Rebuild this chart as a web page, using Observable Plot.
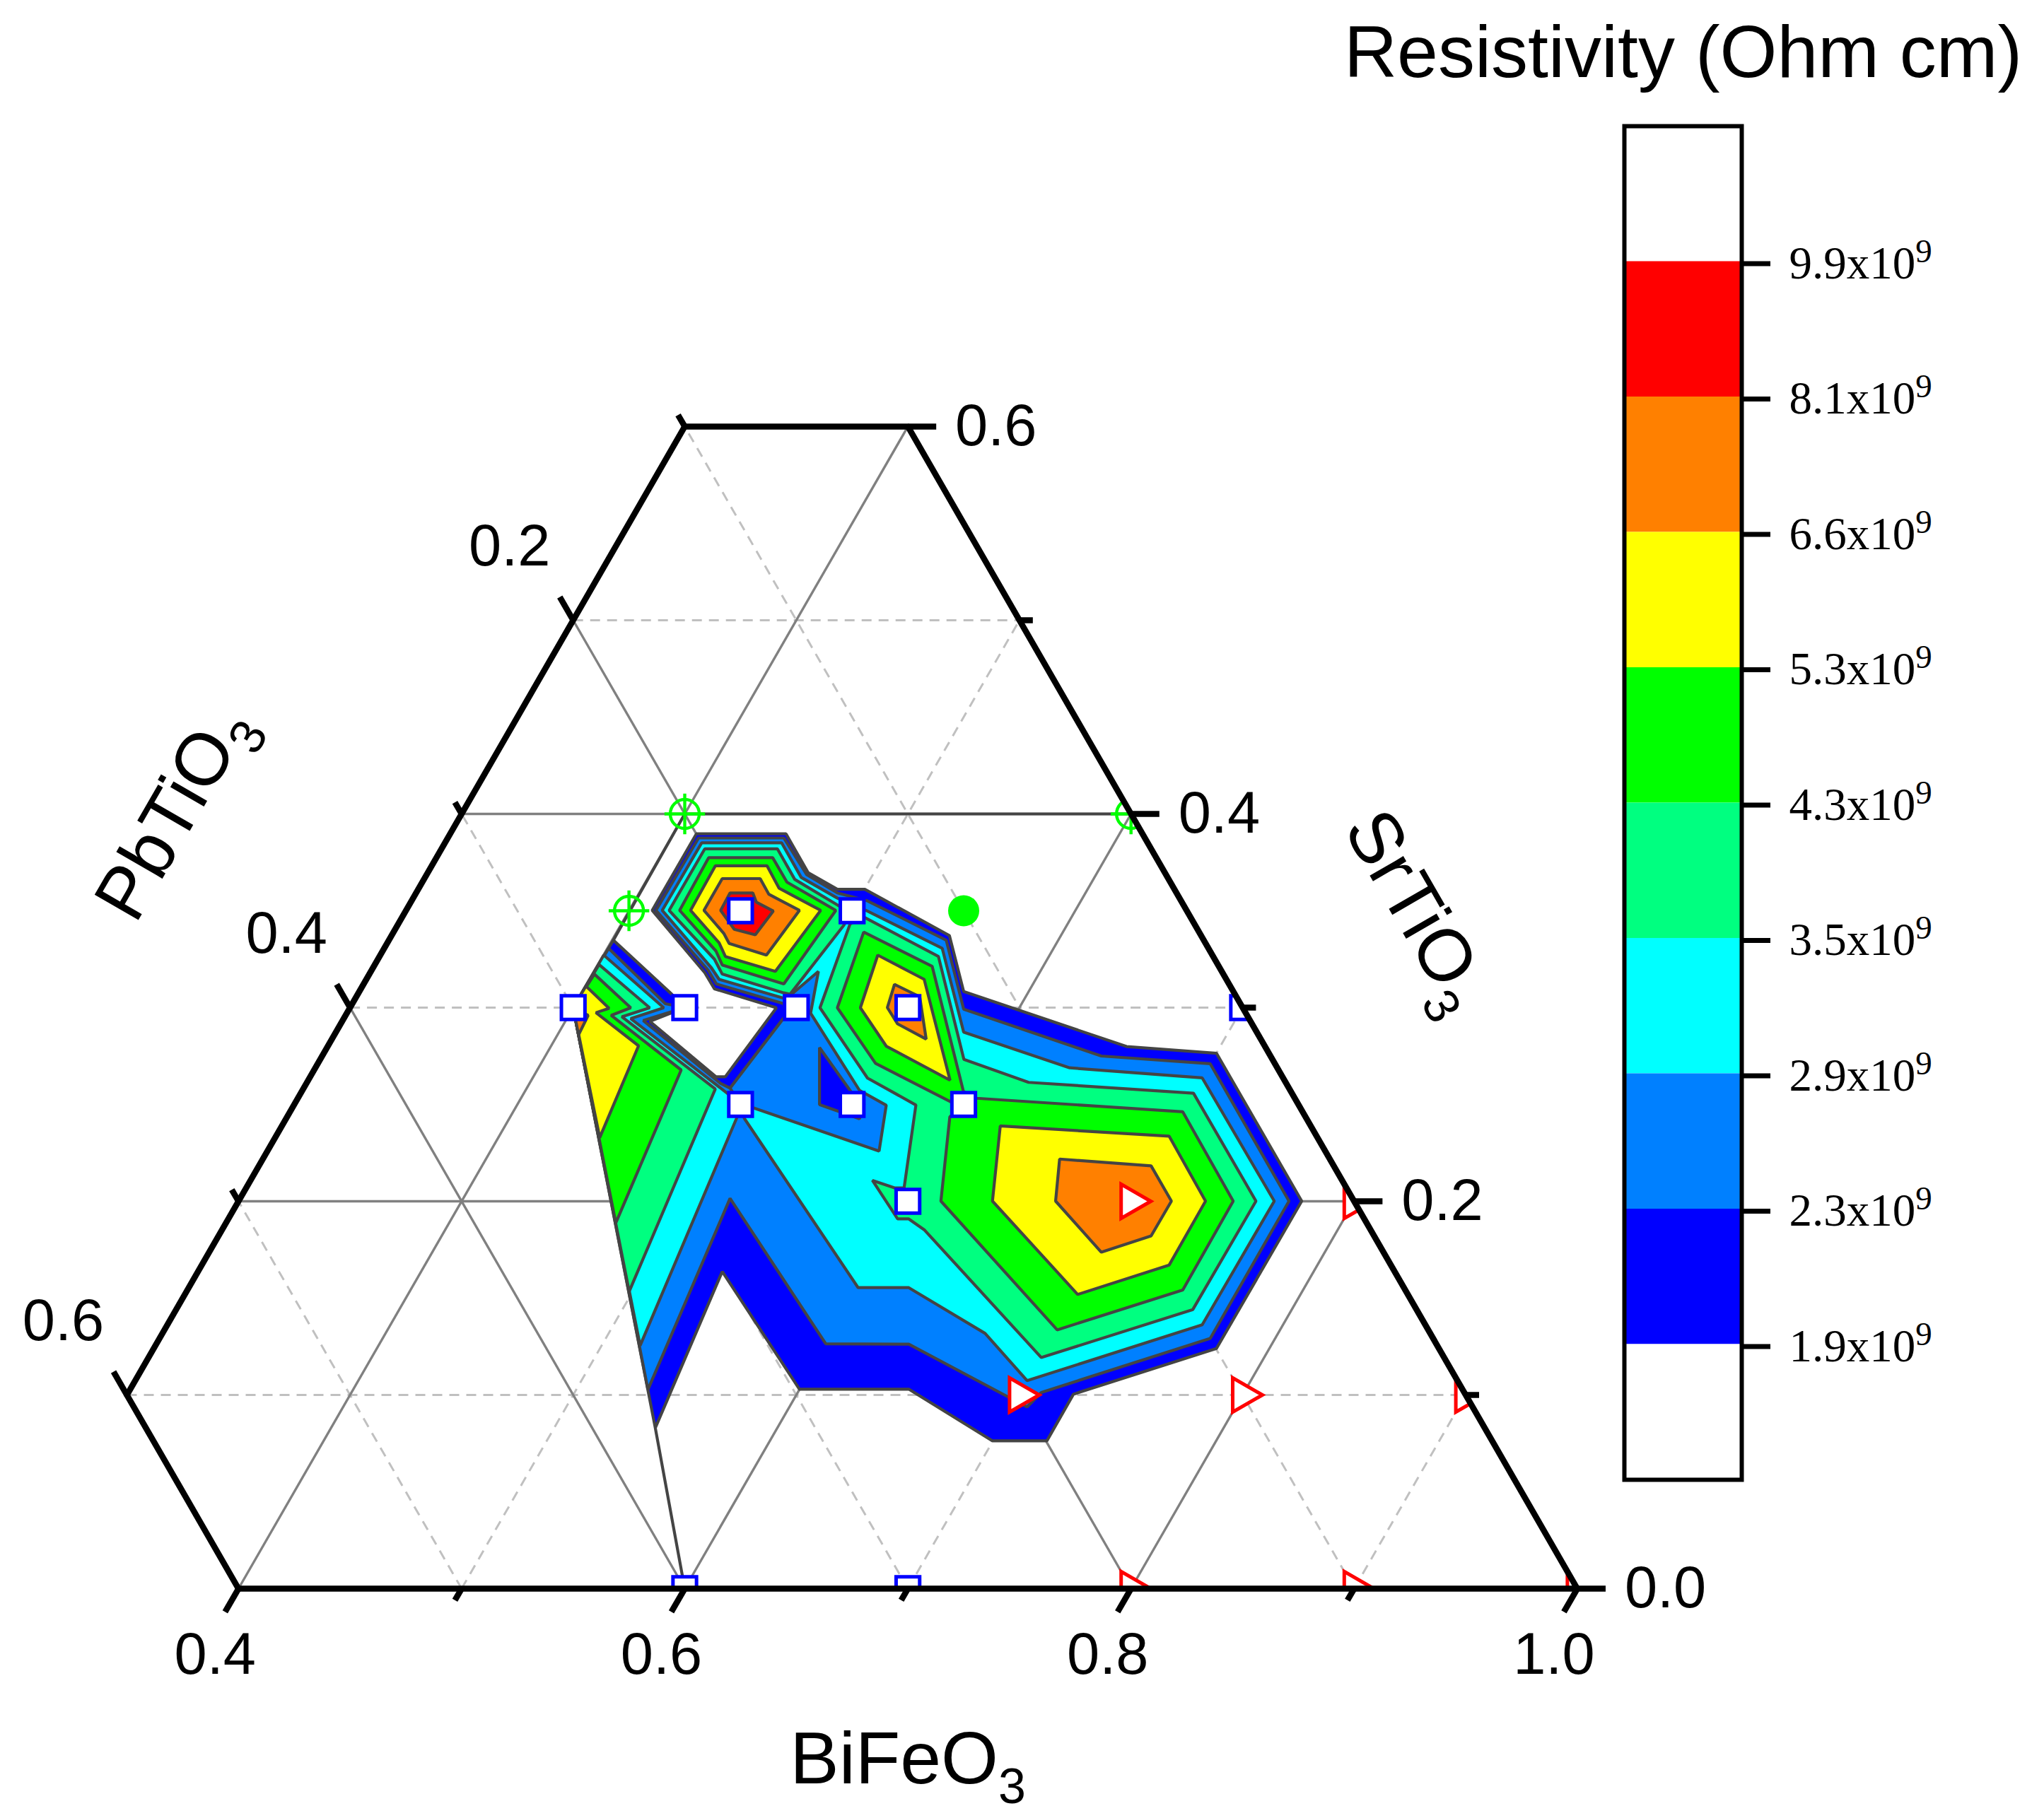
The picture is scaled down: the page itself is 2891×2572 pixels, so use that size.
<!DOCTYPE html>
<html>
<head>
<meta charset="utf-8">
<script src="https://cdn.jsdelivr.net/npm/d3@7"></script>
<script src="https://cdn.jsdelivr.net/npm/@observablehq/plot@0.6"></script>
<style>
html,body{margin:0;padding:0;background:#fff;}
#chart{position:relative;width:2891px;height:2572px;overflow:hidden;}
#chart svg{position:absolute;left:0;top:0;max-width:none;background:transparent;}
</style>
</head>
<body>
<div id="chart"></div>
<script>
// Contour vertices: [BiFeO3 + SrTiO3/2, SrTiO3]
const blueRing = [[.6052,.3897],[.6454,.3897],[.6553,.3697],[.6684,.3611],[.6807,.3611],[.7186,.3372],[.7250,.3083],[.7980,.2799],[.8383,.2764],[.8765,.2001],[.8383,.1240],[.7742,.1004],[.7623,.0763],[.7379,.0763],[.7004,.1030],[.6514,.1030],[.6168,.1637],[.5868,.0830],[.6,0],[.5868,.0830],[.55,.30],[.5680,.3348],[.5942,.3069],[.6,.30],[.5843,.2929],[.6140,.2643],[.6182,.2643],[.6411,.2999],[.6133,.3097],[.6090,.3180],[.5854,.3502]];
const azureRing = [[.6062,.3876],[.6444,.3876],[.6547,.3686],[.6684,.3592],[.6819,.3551],[.7172,.3348],[.7250,.2992],[.7867,.2750],[.8355,.2710],[.8708,.2001],[.8355,.1292],[.7598,.1013],[.7534,.0938],[.7004,.1262],[.6632,.1264],[.6203,.2015],[.5835,.1028],[.55,.30],[.5659,.3306],[.5913,.3020],[.6,.30],[.5814,.2933],[.6161,.2608],[.6203,.2584],[.6451,.2957],[.6444,.3020],[.6142,.3122],[.6104,.3194],[.5871,.3502]];
const cyanLeft = [[.625,.25],[.6232,.2428],[.5800,.1255],[.55,.30],[.5637,.3271],[.5906,.2999],[.5758,.2943],[.6189,.2559]];
const cyanMain = [[.6076,.3851],[.6434,.3851],[.6522,.3672],[.6684,.3565],[.6749,.3530],[.6812,.3502],[.7154,.3306],[.7250,.2873],[.7725,.2689],[.8319,.2637],[.8642,.2001],[.8319,.1362],[.7534,.1074],[.7346,.1318],[.7004,.1554],[.6777,.1554],[.6267,.2428],[.625,.25],[.65,.30],[.6444,.3048],[.6154,.3146],[.6118,.3208],[.5899,.3502]];
const azureHole = [[.6203,.2584],[.6451,.2957],[.6472,.3062],[.6599,.3187],[.6564,.2971],[.6783,.2573],[.6903,.2496],[.6871,.2259],[.6309,.2482],[.625,.25]];
const blueIsland = [[.6604,.2794],[.6749,.2559],[.6804,.2503],[.6783,.2426],[.6604,.2499]];
const springLeft = [[.55,.30],[.5616,.3222],[.5843,.2999],[.5718,.2953],[.6137,.2580],[.5751,.1534]];
const springTop = [[.6090,.3820],[.6415,.3820],[.6493,.3662],[.6684,.3530],[.6741,.3488],[.6713,.3425],[.6472,.3069],[.6444,.3076],[.6168,.3173],[.6133,.3250],[.5930,.3502]];
const springMain = [[.6741,.3432],[.6804,.3467],[.7137,.3264],[.7251,.2733],[.7541,.2614],[.8280,.2558],[.8560,.2001],[.8277,.1441],[.7598,.1193],[.7075,.1851],[.7004,.1909],[.6954,.1909],[.6841,.2108],[.6940,.2069],[.6983,.2069],[.7036,.2497],[.6819,.2636],[.6606,.2999]];
const greenLeft = [[.55,.30],[.5595,.3173],[.5758,.2999],[.5670,.2960],[.5984,.2678],[.5691,.1888]];
const greenTop = [[.6107,.3774],[.6394,.3774],[.6458,.3648],[.6677,.3502],[.6444,.3122],[.6168,.3220],[.6140,.3292],[.5977,.3502]];
const greenMain = [[.6802,.3390],[.7109,.3213],[.7249,.2567],[.7308,.2532],[.8232,.2462],[.8458,.2001],[.8232,.1542],[.7669,.1336],[.7148,.2001],[.7188,.2436],[.725,.25],[.7191,.2514],[.6855,.2712],[.6684,.2999]];
const yellowLeft = [[.55,.30],[.5557,.3111],[.5661,.2996],[.5602,.2974],[.5793,.2803],[.5619,.2329]];
const yellowTop = [[.6137,.3732],[.6369,.3732],[.6423,.3616],[.6609,.3502],[.6406,.3187],[.6182,.3264],[.6154,.3334],[.6026,.3502]];
const yellowMid = [[.6865,.3271],[.7073,.3146],[.7189,.2625],[.6903,.2801],[.6787,.2999]];
const yellowRight = [[.7414,.2389],[.8171,.2336],[.8334,.2001],[.8171,.1671],[.7761,.1519],[.7379,.2001]];
const orangeLeft = [[.55,.30],[.5567,.2960],[.5524,.2859]];
const orangeTop = [[.6168,.3666],[.6338,.3666],[.6377,.3585],[.6514,.3502],[.6366,.3271],[.6199,.3331],[.6175,.3383],[.6086,.3502]];
const orangeMid = [[.6940,.3120],[.7053,.3056],[.7082,.2837],[.6954,.2916],[.6908,.3000]];
const orangeRight = [[.7680,.2218],[.8090,.2183],[.8181,.2001],[.8090,.1821],[.7867,.1737],[.7662,.2001]];
const redTop = [[.6203,.3592],[.6305,.3592],[.6321,.3544],[.6397,.3499],[.6316,.3376],[.6222,.3404],[.6161,.3502]];
const outlineOnly = [[.8,.4],[.6,.4],[.568,.3348]];

const layerLevels = [1.9,2.3,2.9,2.9,2.3,1.9,3.5,3.5,3.5,4.3,4.3,4.3,5.3,5.3,5.3,5.3,6.6,6.6,6.6,6.6,8.1];
const layerRings = [blueRing,azureRing,cyanLeft,cyanMain,azureHole,blueIsland,springLeft,springTop,springMain,greenLeft,greenTop,greenMain,yellowLeft,yellowTop,yellowMid,yellowRight,orangeLeft,orangeTop,orangeMid,orangeRight,redTop];

// Colour levels
const levelThresholds = [1.9,2.3,2.9,3.5,4.3,5.3,6.6,8.1,9.9];
const levelColors = ["#ffffff","#0000ff","#0080ff","#00ffff","#00ff80","#00ff00","#ffff00","#ff8000","#ff0000","#ffffff"];
const legendBands = [9.9,8.1,6.6,5.3,4.3,3.5,2.9,2.3,1.9,0];
const legendLabels = ["9.9x10^9","8.1x10^9","6.6x10^9","5.3x10^9","4.3x10^9","3.5x10^9","2.9x10^9","2.3x10^9","1.9x10^9"];

// Sample compositions [BiFeO3, SrTiO3]
const squareSamples = [[.45,.35],[.5,.35],[.40,.30],[.45,.30],[.5,.30],[.55,.30],[.70,.30],[.5,.25],[.55,.25],[.6,.25],[.6,.2],[.6,0],[.7,0]];
const triangleSamples = [[.7,.2],[.8,.2],[.7,.1],[.8,.1],[.9,.1],[.8,0],[.9,0],[1,0]];
const crossedSamples = [[.4,.4],[.4,.35],[.6,.4]];
const filledSamples = [[.55,.35]];

// Ternary grid segments [[BiFeO3, SrTiO3],[BiFeO3, SrTiO3]]
const gridSolid = [[[.3,.2],[.8,.2]],[[.3,.4],[.6,.4]],[[.4,0],[.4,.6]],[[.6,0],[.6,.4]],[[.8,0],[.8,.2]],[[.8,0],[.3,.5]],[[.6,0],[.3,.3]]];
const gridDashed = [[[.3,.1],[.9,.1]],[[.3,.3],[.7,.3]],[[.3,.5],[.5,.5]],[[.5,0],[.5,.5]],[[.7,0],[.7,.3]],[[.9,0],[.9,.1]],[[.9,0],[.3,.6]],[[.7,0],[.3,.4]],[[.5,0],[.3,.2]]];
const borderPath = [[.4,0],[1,0],[.4,.6],[.3,.6],[.3,.1]];

const biMajor = [.4,.6,.8,1.0], biMinor = [.5,.7,.9];
const srMajor = [0,.2,.4,.6], srMinor = [.1,.3,.5];
const pbMajor = [.2,.4,.6], pbMinor = [.1,.3,.5];

const px = d => d[0] + d[1] / 2, py = d => d[1];
const ringRows = layerRings.flatMap((r, i) => r.map(([x, y]) => ({x, y, ring: i, level: layerLevels[i]})));
const maskRight = [[1,0],[.7,.6],[.9,.6],[1.2,0]];
const maskBottom = [[.37,0],[1.1,0],[1.1,-.03],[.37,-.03]];

const pbPoint = p => [.3, .7 - p];
const biTick = (b, d) => ({x1: b, y1: 0, x2: b - d / 2, y2: -d});
const srTick = (s, d) => ({x1: 1 - s / 2, y1: s, x2: 1 - s / 2 + d, y2: s});
const pbTick = (p, d) => { const [b, s] = pbPoint(p); return {x1: b + s / 2, y1: s, x2: b + s / 2 - d / 2, y2: s + d}; };
const tickRows = (maj, min, f, a, c) => [...maj.map(v => f(v, a)), ...min.map(v => f(v, c))];
const allTicks = [...tickRows(biMajor, biMinor, biTick, .012, .006), ...tickRows(srMajor, srMinor, srTick, .0127, .006), ...tickRows(pbMajor, pbMinor, pbTick, .012, .006)];

const SANS = "Liberation Sans", SERIF = "Liberation Serif";
const INK = "#444444", BLUE = "#0000ff", RED = "#ff0000", GREEN = "#00ff00";
const labelOpts = {fontFamily: SANS, fontSize: 83, fill: "#000"};
const titleOpts = {fontFamily: SANS, fontSize: 104, fill: "#000"};

const main = Plot.plot({
  width: 2891, height: 2572, margin: 0,
  style: {background: "transparent"},
  x: {domain: [.29328, 1.20932], range: [0, 2891], axis: null},
  y: {domain: [.82007, -.11861], range: [0, 2572], axis: null},
  color: {type: "threshold", domain: levelThresholds, range: levelColors},
  marks: [
    Plot.link(gridDashed, {x1: d => px(d[0]), y1: d => py(d[0]), x2: d => px(d[1]), y2: d => py(d[1]), stroke: "#c0c0c0", strokeWidth: 3, strokeDasharray: "14,10"}),
    Plot.link(gridSolid, {x1: d => px(d[0]), y1: d => py(d[0]), x2: d => px(d[1]), y2: d => py(d[1]), stroke: "#808080", strokeWidth: 3.4}),
    Plot.line(ringRows, {x: "x", y: "y", z: "ring", fill: "level", stroke: INK, strokeWidth: 4.2, strokeLinejoin: "miter", curve: "linear-closed"}),
    Plot.line(outlineOnly, {x: d => d[0], y: d => d[1], stroke: INK, strokeWidth: 4.2}),
    Plot.dot(filledSamples, {x: px, y: py, r: 22, fill: GREEN, stroke: "none"}),
    Plot.dot(crossedSamples, {x: px, y: py, r: 20.5, fill: "none", stroke: GREEN, strokeWidth: 4.4}),
    Plot.dot(crossedSamples, {x: px, y: py, r: 18.5, symbol: "plus", stroke: GREEN, strokeWidth: 4.4}),
    Plot.dot(squareSamples, {x: px, y: py, r: 18.8, symbol: "square", fill: "#fff", stroke: BLUE, strokeWidth: 5}),
    Plot.dot(triangleSamples, {x: px, y: py, r: 18, symbol: "triangle", rotate: 90, fill: "#fff", stroke: RED, strokeWidth: 5}),
    Plot.line(maskRight, {x: d => d[0], y: d => d[1], fill: "#fff", stroke: "none", curve: "linear-closed"}),
    Plot.line(maskBottom, {x: d => d[0], y: d => d[1], fill: "#fff", stroke: "none", curve: "linear-closed"}),
    Plot.line(borderPath, {x: px, y: py, stroke: "#000", strokeWidth: 8.5, curve: "linear-closed", strokeLinejoin: "round"}),
    Plot.link(allTicks, {x1: "x1", y1: "y1", x2: "x2", y2: "y2", stroke: "#000", strokeWidth: 8.5}),
    Plot.text(biMajor, {x: d => d, y: () => 0, text: d => d.toFixed(1), dx: -33, dy: 94, ...labelOpts}),
    Plot.text(srMajor, {x: d => 1 - d / 2, y: d => d, text: d => d.toFixed(1), dx: 67, textAnchor: "start", ...labelOpts}),
    Plot.text(pbMajor, {x: d => px(pbPoint(d)), y: d => py(pbPoint(d)), text: d => d.toFixed(1), dx: -90, dy: -104, ...labelOpts}),
    Plot.text(["BiFeO_3"], {x: () => .7, y: () => 0, dx: 0, dy: 242, ...titleOpts}),
    Plot.text(["PbTiO_3"], {x: () => .45, y: () => .3, dx: -250, dy: -276, rotate: -60, ...titleOpts}),
    Plot.text(["SrTiO_3"], {x: () => .85, y: () => .3, dx: 247, dy: -137, rotate: 60, ...titleOpts})
  ]
});

const legend = Plot.plot({
  width: 2891, height: 2572,
  marginLeft: 2297, marginRight: 428, marginTop: 178, marginBottom: 479,
  style: {background: "transparent"},
  x: {domain: [0, 1], axis: null},
  y: {domain: [0, 10], range: [178, 2093]},
  color: {type: "threshold", domain: levelThresholds, range: levelColors},
  marks: [
    Plot.rect(legendBands, {x1: () => 0, x2: () => 1, y1: (d, i) => i, y2: (d, i) => i + 1, fill: d => d}),
    Plot.axisY({anchor: "right", ticks: d3.range(1, 10), tickSize: 40, tickPadding: 27, strokeWidth: 7, label: null, tickFormat: i => legendLabels[i - 1], fontFamily: SERIF, fontSize: 65, dy: 3, fill: "#000", stroke: "#000", textStroke: "none"}),
    Plot.frame({stroke: "#000", strokeWidth: 6}),
    Plot.text(["Resistivity (Ohm cm)"], {x: () => .5, y: () => 0, dy: -103, ...titleOpts})
  ]
});

// Real sub/superscripts for the text marks
function scripted(svg) {
  svg.querySelectorAll("text").forEach(t => {
    const nodes = t.querySelectorAll("tspan").length ? [...t.querySelectorAll("tspan")] : [t];
    nodes.forEach(n => {
      const m = /^(.*)([_^])(.+)$/.exec(n.textContent);
      if (!m) return;
      n.textContent = "";
      const a = document.createElementNS("http://www.w3.org/2000/svg", "tspan");
      a.textContent = m[1];
      const b = document.createElementNS("http://www.w3.org/2000/svg", "tspan");
      b.textContent = m[3];
      const sup = m[2] === "^";
      b.setAttribute("font-size", sup ? 47 : 70);
      b.setAttribute("dy", sup ? -23 : 28);
      n.append(a, b);
    });
  });
}
scripted(main); scripted(legend);
const host = document.getElementById("chart");
host.append(main, legend);
</script>
</body>
</html>
